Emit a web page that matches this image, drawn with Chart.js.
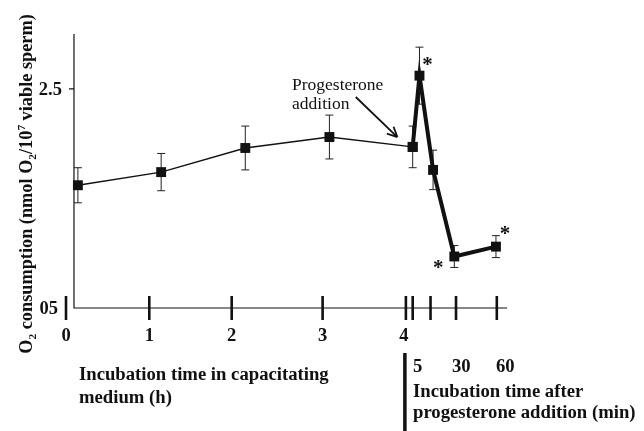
<!DOCTYPE html>
<html>
<head>
<meta charset="utf-8">
<script src="https://cdn.jsdelivr.net/npm/chart.js@4/dist/chart.umd.min.js"></script>
<style>
  body { margin: 0; background: #fff; }
  #wrap { width: 644px; height: 431px; }
</style>
</head>
<body>
<div id="wrap"><canvas id="o2Chart" width="644" height="431"></canvas></div>
<script>
// Data (x is position on the composite time axis, in hours)
const xPos = [0.14, 1.12, 2.11, 3.1, 4.08, 4.16, 4.32, 4.57, 5.06];
const o2Mean = [1.62, 1.74, 1.96, 2.06, 1.97, 2.62, 1.76, 0.97, 1.06];
const o2Sem = [0.16, 0.17, 0.2, 0.2, 0.19, 0.26, 0.18, 0.1, 0.1];
const starred = [5, 7, 8];

// Axis ticks
const xTicks = [0, 0.98, 1.95, 3.02, 4, 4.08, 4.29, 4.59, 5.07];
const xTickLabels = ["0", "1", "2", "3", "4", "", "", "", ""];
const yTicks = [0.5, 2.5];
const yTickLabels = ["05", "2.5"];
const minuteLabels = ["5", "30", "60"];

const SERIF = "'Liberation Serif', 'Times New Roman', serif";

function pts(from, to) {
  const out = [];
  for (let i = from; i <= to; i++) out.push({ x: xPos[i], y: o2Mean[i] });
  return out;
}

// Draws a run of text pieces (with sub/superscripts) starting at x
function drawRich(ctx, pieces, x, y, size) {
  pieces.forEach((p) => {
    const s = p.sub || p.sup ? size * 0.62 : size;
    ctx.font = "bold " + s + "px " + SERIF;
    const dy = p.sub ? size * 0.22 : p.sup ? -size * 0.38 : 0;
    ctx.fillText(p.t, x, y + dy);
    x += ctx.measureText(p.t).width;
  });
}

function richWidth(ctx, pieces, size) {
  let w = 0;
  pieces.forEach((p) => {
    const s = p.sub || p.sup ? size * 0.62 : size;
    ctx.font = "bold " + s + "px " + SERIF;
    w += ctx.measureText(p.t).width;
  });
  return w;
}

const figureDecor = {
  id: "figureDecor",
  beforeDatasetsDraw(chart) {
    const ctx = chart.ctx;
    const xs = chart.scales.x;
    const ys = chart.scales.y;
    const axisX = xs.getPixelForValue(0.094);
    const axisY = ys.getPixelForValue(0.5);
    ctx.save();
    ctx.strokeStyle = "#111";
    ctx.lineWidth = 1.2;
    // y axis line
    ctx.beginPath();
    ctx.moveTo(axisX, ys.getPixelForValue(3.0));
    ctx.lineTo(axisX, axisY);
    // x axis line
    ctx.lineTo(xs.getPixelForValue(xs.max), axisY);
    // small tick at 2.5
    ctx.moveTo(axisX - 5, ys.getPixelForValue(2.5));
    ctx.lineTo(axisX, ys.getPixelForValue(2.5));
    ctx.stroke();

    // x ticks crossing the axis
    ctx.lineWidth = 2.6;
    xTicks.forEach((v) => {
      const px = xs.getPixelForValue(v);
      ctx.beginPath();
      ctx.moveTo(px, axisY - 12);
      ctx.lineTo(px, axisY + 12);
      ctx.stroke();
    });

    // error bars
    ctx.lineWidth = 1;
    ctx.strokeStyle = "#222";
    xPos.forEach((xv, i) => {
      const px = xs.getPixelForValue(xv);
      const top = ys.getPixelForValue(o2Mean[i] + o2Sem[i]);
      const bot = ys.getPixelForValue(o2Mean[i] - o2Sem[i]);
      ctx.beginPath();
      ctx.moveTo(px, top);
      ctx.lineTo(px, bot);
      ctx.moveTo(px - 4, top);
      ctx.lineTo(px + 4, top);
      ctx.moveTo(px - 4, bot);
      ctx.lineTo(px + 4, bot);
      ctx.stroke();
    });
    ctx.restore();
  },
  afterDatasetsDraw(chart) {
    const ctx = chart.ctx;
    const xs = chart.scales.x;
    const ys = chart.scales.y;
    const axisY = ys.getPixelForValue(0.5);
    ctx.save();
    ctx.fillStyle = "#111";
    ctx.strokeStyle = "#111";

    // asterisks for significant points
    const starOffset = { 5: [8, -15], 7: [-16, 8], 8: [9, -17] };
    ctx.font = "bold 21px " + SERIF;
    ctx.textAlign = "center";
    ctx.textBaseline = "alphabetic";
    starred.forEach((i) => {
      const px = xs.getPixelForValue(xPos[i]) + starOffset[i][0];
      const py = ys.getPixelForValue(o2Mean[i]) + starOffset[i][1];
      ctx.fillText("*", px, py + 10);
    });

    // x tick labels
    ctx.font = "bold 18.5px " + SERIF;
    ctx.textBaseline = "middle";
    xTicks.forEach((v, i) => {
      if (xTickLabels[i]) ctx.fillText(xTickLabels[i], xs.getPixelForValue(v) - (i === 4 ? 2 : 0), axisY + 28);
    });

    // y tick labels
    ctx.textAlign = "right";
    yTicks.forEach((v, i) => {
      const off = v === 0.5 ? 16 : 12;
      ctx.fillText(yTickLabels[i], xs.getPixelForValue(0.094) - off, ys.getPixelForValue(v) + 1);
    });

    // progesterone note and arrow
    ctx.textAlign = "left";
    ctx.textBaseline = "alphabetic";
    ctx.font = "17.5px " + SERIF;
    const noteX = xs.getPixelForValue(2.66);
    const noteY = ys.getPixelForValue(2.49);
    ctx.fillText("Progesterone", noteX, noteY);
    ctx.fillText("addition", noteX, noteY + 19);
    const ax0 = xs.getPixelForValue(3.41), ay0 = ys.getPixelForValue(2.425);
    const ax1 = xs.getPixelForValue(3.9), ay1 = ys.getPixelForValue(2.06);
    ctx.lineWidth = 1.8;
    ctx.beginPath();
    ctx.moveTo(ax0, ay0);
    ctx.lineTo(ax1, ay1);
    const ang = Math.atan2(ay1 - ay0, ax1 - ax0);
    [0.45, -0.45].forEach((d) => {
      ctx.moveTo(ax1, ay1);
      ctx.lineTo(ax1 - 11 * Math.cos(ang + d), ay1 - 11 * Math.sin(ang + d));
    });
    ctx.stroke();

    // bottom axis captions
    ctx.font = "bold 18.7px " + SERIF;
    ctx.fillText("Incubation time in capacitating", 79, 380);
    ctx.fillText("medium (h)", 79, 403);

    const barX = xs.getPixelForValue(4) - 1;
    ctx.lineWidth = 3.5;
    ctx.beginPath();
    ctx.moveTo(barX, 353);
    ctx.lineTo(barX, 431);
    ctx.stroke();
    const minX = [413, 452, 496];
    minuteLabels.forEach((t, i) => ctx.fillText(t, minX[i], 372));
    ctx.fillText("Incubation time after", 413, 397);
    ctx.fillText("progesterone addition (min)", 413, 418);

    // y axis title with sub/superscripts
    const title = [
      { t: "O" }, { t: "2", sub: true }, { t: " consumption (nmol O" }, { t: "2", sub: true },
      { t: "/10" }, { t: "7", sup: true }, { t: " viable sperm)" },
    ];
    const size = 18.3;
    const w = richWidth(ctx, title, size);
    ctx.translate(32, 184);
    ctx.rotate(-Math.PI / 2);
    drawRich(ctx, title, -w / 2, 0, size);
    ctx.restore();
  },
};

const ctx = document.getElementById("o2Chart").getContext("2d");
const o2Chart = new Chart(ctx, {
  type: "line",
  data: {
    datasets: [
      {
        data: pts(0, 4),
        borderColor: "#111",
        backgroundColor: "#111",
        borderWidth: 1.4,
        pointStyle: "rect",
        pointRadius: 7,
        pointBorderWidth: 0,
      },
      {
        data: pts(4, 8),
        borderColor: "#111",
        backgroundColor: "#111",
        borderWidth: 4,
        pointStyle: "rect",
        pointRadius: 7,
        pointBorderWidth: 0,
      },
    ],
  },
  options: {
    responsive: false,
    animation: false,
    layout: { padding: { left: 66, top: 34, right: 137, bottom: 123 } },
    plugins: { legend: { display: false }, tooltip: { enabled: false } },
    scales: {
      x: { type: "linear", min: 0, max: 5.19, display: false },
      y: { type: "linear", min: 0.5, max: 3.0, display: false },
    },
  },
  plugins: [figureDecor],
});
</script>
</body>
</html>
